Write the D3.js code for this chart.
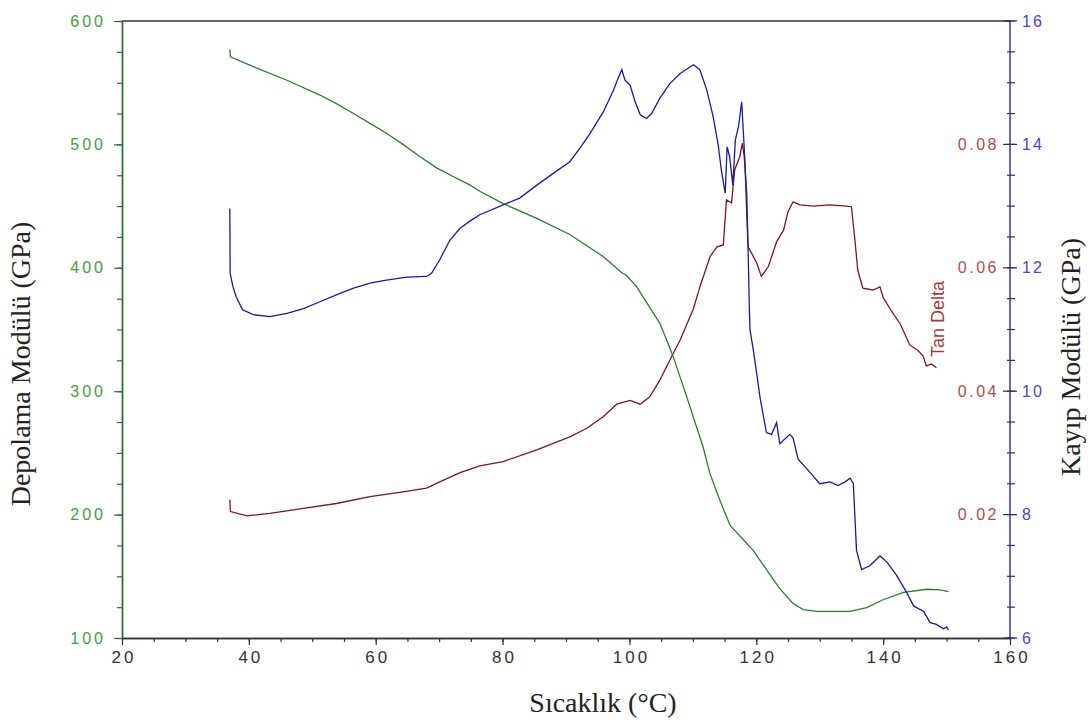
<!DOCTYPE html>
<html>
<head>
<meta charset="utf-8">
<script src="https://cdn.jsdelivr.net/npm/d3@7"></script>
<style>
  body { margin: 0; background: #fff; }
  .tick text { font-family: "Liberation Sans", Arial, sans-serif; font-size: 16px; letter-spacing: 3px; }
  .title { font-family: "Liberation Serif", "Times New Roman", serif; font-size: 28px; fill: #222; }
</style>
</head>
<body>
<div id="vis-svg"></div>
<script>
var w = 1090;
var h = 724;

// temperature (C) vs storage modulus (GPa, left axis)
var storageData = [[37.0,577],[37.1,571],[40.7,563],[46.0,552],[51.2,540],[53.8,533],[56.5,525],[59.1,517],[61.7,509],[64.3,500],[67.0,490],[69.6,481],[72.2,474],[74.9,467],[76.4,462],[80.1,452],[85.4,440],[90.6,427],[95.9,409],[98.8,396],[99.5,394],[101.1,385],[103.2,368],[104.8,355],[105.9,341],[106.9,328],[109.0,296],[111.6,255],[112.7,233],[114.3,211],[115.9,191],[117.9,180],[119.5,171],[121.6,155.5],[123.7,140],[125.8,128],[127.4,123],[129.5,121.6],[134.8,121.6],[137.4,124.7],[140.0,131],[143.2,137],[146.9,139.5],[149.0,139],[150.3,137.5]];

// loss modulus (GPa, right axis)
var lossData = [[37.0,12.96],[37.05,11.91],[37.5,11.69],[38.0,11.53],[39.0,11.32],[40.7,11.24],[43.3,11.21],[46.0,11.26],[48.6,11.34],[51.2,11.45],[53.8,11.56],[56.5,11.67],[59.1,11.75],[61.7,11.80],[64.9,11.85],[68.0,11.86],[68.8,11.91],[70.1,12.13],[71.7,12.45],[73.3,12.64],[74.9,12.76],[76.4,12.86],[80.1,13.02],[82.7,13.13],[85.4,13.34],[88.0,13.53],[90.6,13.72],[92.2,13.94],[93.8,14.18],[95.9,14.53],[97.5,14.88],[98.2,15.07],[98.8,15.21],[99.3,15.04],[100.1,14.96],[100.9,14.69],[101.7,14.48],[102.7,14.42],[103.5,14.50],[104.8,14.75],[106.4,14.99],[108.0,15.15],[110.1,15.29],[111.1,15.21],[112.2,14.88],[113.2,14.45],[114.0,13.99],[114.5,13.58],[115.1,13.21],[115.4,13.96],[115.8,13.80],[116.3,13.34],[116.7,14.07],[117.2,14.29],[117.7,14.69],[118.0,14.12],[118.2,13.75],[118.5,12.88],[118.7,12.34],[118.9,11.37],[119.0,11.00],[119.5,10.69],[120.1,10.26],[120.6,9.89],[121.1,9.61],[121.6,9.33],[122.4,9.30],[123.2,9.49],[123.7,9.15],[125.3,9.30],[125.8,9.24],[126.6,8.90],[128.5,8.68],[130.0,8.50],[131.6,8.53],[132.9,8.47],[134.0,8.53],[134.8,8.59],[135.3,8.50],[135.8,7.42],[136.6,7.11],[137.9,7.17],[139.5,7.33],[140.6,7.23],[142.1,7.02],[143.7,6.74],[144.8,6.52],[146.4,6.43],[147.4,6.25],[148.4,6.22],[149.5,6.15],[150.0,6.18],[150.3,6.13]];

// tan delta
var tanData = [[37.0,0.0224],[37.1,0.0205],[39.7,0.0198],[43.3,0.0202],[48.6,0.0210],[53.8,0.0218],[59.1,0.0229],[64.3,0.0237],[68.0,0.0243],[70.1,0.0253],[73.3,0.0268],[76.4,0.0279],[80.1,0.0286],[85.4,0.0305],[90.6,0.0326],[93.3,0.0340],[95.9,0.0359],[98.0,0.0379],[100.1,0.0385],[101.7,0.0379],[103.2,0.0391],[104.8,0.0418],[106.4,0.0451],[108.0,0.0483],[110.1,0.0534],[111.1,0.0569],[112.7,0.0618],[113.8,0.0634],[114.8,0.0637],[115.3,0.0710],[116.1,0.0705],[116.6,0.0759],[117.4,0.0780],[117.8,0.0802],[118.1,0.0780],[118.5,0.0721],[118.7,0.0634],[119.3,0.0623],[120.1,0.0607],[120.8,0.0586],[121.9,0.0602],[123.2,0.0642],[124.3,0.0661],[125.0,0.0691],[125.8,0.0707],[126.9,0.0702],[129.0,0.0700],[131.6,0.0702],[134.2,0.0700],[135.0,0.0699],[135.5,0.0650],[136.0,0.0596],[136.8,0.0567],[138.4,0.0564],[139.5,0.0569],[140.0,0.0552],[141.3,0.0530],[142.7,0.0509],[144.2,0.0475],[145.5,0.0466],[146.3,0.0457],[146.8,0.0441],[147.6,0.0444],[148.4,0.0438]];

var xTicks = [20, 40, 60, 80, 100, 120, 140, 160];
var leftTicks = [100, 200, 300, 400, 500, 600];
var rightTicks = [6, 8, 10, 12, 14, 16];
var tanTicks = [0.02, 0.04, 0.06, 0.08];

var padL = 122, padR = 1010, padT = 21, padB = 638;

var canvas = d3.select("#vis-svg").append("svg")
    .attr("width", w)
    .attr("height", h)

var x = d3.scaleLinear().domain([20, 160]).range([padL, padR]);
var yLeft = d3.scaleLinear().domain([100, 600]).range([padB, padT]);
var yRight = d3.scaleLinear().domain([6, 16]).range([padB, padT]);
var yTan = d3.scaleLinear().domain([0, 0.1]).range([padB, padT]);

function minors(lo, hi, step) {
    return d3.range(lo, hi + step / 2, step);
}

function styleAxis(g, color, labelColor) {
    g.select(".domain").attr("stroke", color).attr("stroke-width", 1.4);
    g.selectAll(".tick line").attr("stroke", color).attr("stroke-width", 1.2);
    g.selectAll(".tick text").attr("fill", labelColor);
}

// top border
canvas.append("line")
    .attr("x1", padL).attr("x2", padR)
    .attr("y1", padT).attr("y2", padT)
    .attr("stroke", "#333").attr("stroke-width", 1.4);

// bottom axis
var gxMinor = canvas.append("g")
    .attr("transform", "translate(0," + padB + ")")
    .call(d3.axisBottom(x).tickValues(minors(20, 160, 5)).tickFormat("").tickSize(4).tickSizeOuter(0));
styleAxis(gxMinor, "#333", "#333");
var gx = canvas.append("g")
    .attr("transform", "translate(0," + padB + ")")
    .call(d3.axisBottom(x).tickValues(xTicks).tickSize(7).tickSizeOuter(0).tickPadding(6));
styleAxis(gx, "#333", "#333");
gx.selectAll(".tick text").attr("dx", "1.5px").style("font-size", "17px");

// left axis
var gyMinor = canvas.append("g")
    .attr("transform", "translate(" + padL + ",0)")
    .call(d3.axisLeft(yLeft).tickValues(minors(100, 600, 25)).tickFormat("").tickSize(5).tickSizeOuter(0));
styleAxis(gyMinor, "#2f6a2f", "#2f6a2f");
var gy = canvas.append("g")
    .attr("transform", "translate(" + padL + ",0)")
    .call(d3.axisLeft(yLeft).tickValues(leftTicks).tickSize(8).tickSizeOuter(0).tickPadding(8));
styleAxis(gy, "#2f6a2f", "#4a9a4a");

// right axis (loss modulus) with crossing ticks
var gr = canvas.append("g")
    .attr("transform", "translate(" + padR + ",0)");
gr.append("line")
    .attr("y1", padT).attr("y2", padB)
    .attr("stroke", "#2a2a88").attr("stroke-width", 1.4);
gr.selectAll(".minor")
    .data(minors(6, 16, 0.5))
    .enter()
    .append("line")
    .attr("x1", -3).attr("x2", 5)
    .attr("y1", d => yRight(d)).attr("y2", d => yRight(d))
    .attr("stroke", "#2a2a88").attr("stroke-width", 1.2);
gr.selectAll(".major")
    .data(rightTicks)
    .enter()
    .append("line")
    .attr("x1", -7).attr("x2", 7)
    .attr("y1", d => yRight(d)).attr("y2", d => yRight(d))
    .attr("stroke", "#2a2a88").attr("stroke-width", 1.2);
gr.selectAll(".lbl")
    .data(rightTicks)
    .enter()
    .append("text")
    .attr("x", 12)
    .attr("y", d => yRight(d))
    .attr("dy", "0.35em")
    .style("font-family", "Liberation Sans, Arial, sans-serif")
    .style("font-size", "16px")
    .style("letter-spacing", "2px")
    .attr("fill", "#4848c8")
    .text(d => d);

// tan delta labels
canvas.selectAll(".tanlbl")
    .data(tanTicks)
    .enter()
    .append("text")
    .attr("x", padR - 11)
    .attr("y", d => yTan(d))
    .attr("dy", "0.35em")
    .attr("text-anchor", "end")
    .style("font-family", "Liberation Sans, Arial, sans-serif")
    .style("font-size", "16px")
    .style("letter-spacing", "2.5px")
    .attr("fill", "#a85050")
    .text(d => d3.format(".2f")(d));

// curves
var lineStorage = d3.line().x(d => x(d[0])).y(d => yLeft(d[1]));
var lineLoss = d3.line().x(d => x(d[0])).y(d => yRight(d[1]));
var lineTan = d3.line().x(d => x(d[0])).y(d => yTan(d[1]));

canvas.append("path")
    .attr("d", lineTan(tanData))
    .attr("fill", "none")
    .attr("stroke", "#7a1a1a")
    .attr("stroke-width", 1.3);

canvas.append("path")
    .attr("d", lineStorage(storageData))
    .attr("fill", "none")
    .attr("stroke", "#2e7d2e")
    .attr("stroke-width", 1.3);

canvas.append("path")
    .attr("d", lineLoss(lossData))
    .attr("fill", "none")
    .attr("stroke", "#1c1c96")
    .attr("stroke-width", 1.3);

// titles
canvas.append("text")
    .attr("class", "title")
    .attr("transform", "translate(30,364) rotate(-90)")
    .attr("text-anchor", "middle")
    .text("Depolama Modülü (GPa)");

canvas.append("text")
    .attr("class", "title")
    .attr("transform", "translate(1080,357) rotate(-90)")
    .attr("text-anchor", "middle")
    .text("Kayıp Modülü (GPa)");

canvas.append("text")
    .attr("class", "title")
    .attr("x", 603)
    .attr("y", 712)
    .attr("text-anchor", "middle")
    .text("Sıcaklık (°C)");

canvas.append("text")
    .attr("transform", "translate(944,319) rotate(-90)")
    .attr("text-anchor", "middle")
    .style("font-family", "Liberation Sans, Arial, sans-serif")
    .style("font-size", "18px")
    .attr("fill", "#a04040")
    .text("Tan Delta");
</script>
</body>
</html>
